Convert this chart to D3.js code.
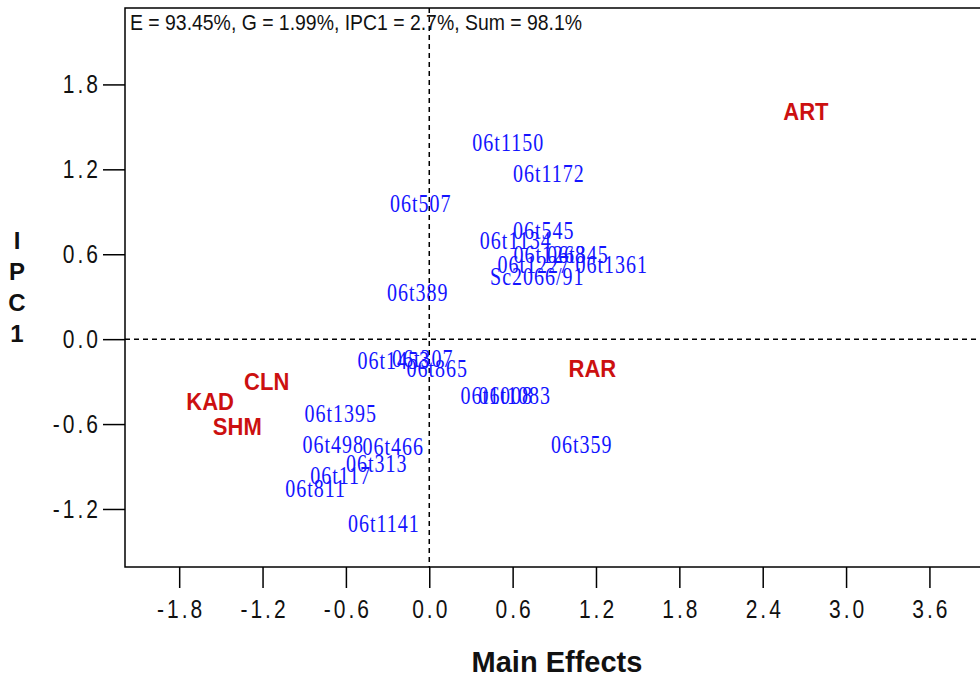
<!DOCTYPE html>
<html>
<head>
<meta charset="utf-8">
<script src="https://cdn.jsdelivr.net/npm/d3@7"></script>
<style>
  body { margin: 0; background: #fff; }
  svg { display: block; }
</style>
</head>
<body>
<div id="biplot"></div>
<script>
// GGE biplot: environments (rood) en genotypes (blauw)

const envNames = ["ART", "RAR", "CLN", "KAD", "SHM"];
const envX = [2.711, 1.174, -1.170, -1.577, -1.382];
const envY = [1.613, -0.205, -0.300, -0.441, -0.614];

const genoNames = ["06t1150", "06t1172", "06t507", "06t545", "06t1134", "06t1268", "06t345",
  "06t1227", "06t1361", "Sc2066/91", "06t389", "06t1453", "06t307", "06t865", "06t1008",
  "06t1083", "06t1395", "06t498", "06t466", "06t313", "06t117", "06t811", "06t1141", "06t359"];
const genoX = [0.565, 0.857, -0.065, 0.821, 0.619, 0.864, 1.066,
  0.749, 1.310, 0.774, -0.086, -0.259, -0.050, 0.054, 0.482,
  0.612, -0.641, -0.695, -0.263, -0.382, -0.641, -0.821, -0.331, 1.094];
const genoY = [1.390, 1.168, 0.956, 0.769, 0.699, 0.600, 0.600,
  0.529, 0.529, 0.445, 0.332, -0.148, -0.134, -0.205, -0.395,
  -0.395, -0.522, -0.745, -0.755, -0.875, -0.960, -1.052, -1.302, -0.741];

const xTickValues = [-1.8, -1.2, -0.6, 0.0, 0.6, 1.2, 1.8, 2.4, 3.0, 3.6];
const xTickLabels = ["-1.8", "-1.2", "-0.6", "0.0", "0.6", "1.2", "1.8", "2.4", "3.0", "3.6"];
const yTickValues = [1.8, 1.2, 0.6, 0.0, -0.6, -1.2];
const yTickLabels = ["1.8", "1.2", "0.6", "0.0", "-0.6", "-1.2"];

const summaryText = "E = 93.45%, G = 1.99%, IPC1 = 2.7%, Sum = 98.1%";
const xTitle = "Main Effects";
const yTitle = ["I", "P", "C", "1"];

const margin = {top: 8, right: -5, bottom: 110, left: 125},
      width = 980 - margin.left - margin.right,
      height = 677 - margin.top - margin.bottom;

const svg = d3.select("#biplot")
  .append("svg")
  .attr("width", 980)
  .attr("height", 677)
  .append("g")
  .attr("transform", `translate(${margin.left}, ${margin.top})`);

const x = d3.scaleLinear()
  .domain([-2.19, 4.0])
  .range([0, width]);

const y = d3.scaleLinear()
  .domain([-1.61, 2.34])
  .range([height, 0]);

// assen
const xAxis = svg.append("g")
  .attr("transform", `translate(0, ${height})`)
  .call(d3.axisBottom(x)
    .tickValues(xTickValues)
    .tickSize(21)
    .tickFormat(function(d, i) { return xTickLabels[i]; }));

const yAxis = svg.append("g")
  .call(d3.axisLeft(y)
    .tickValues(yTickValues)
    .tickSize(22)
    .tickPadding(2)
    .tickFormat(function(d, i) { return yTickLabels[i]; }));

[xAxis, yAxis].forEach(function(ax) {
  ax.select(".domain").remove();
  ax.selectAll("line").attr("stroke", "#000").attr("stroke-width", 1.5);
  ax.selectAll("text")
    .attr("fill", "#111")
    .style("font-family", "'Liberation Sans', Arial, sans-serif")
    .style("font-size", "21px")
    .style("letter-spacing", "3px");
});

// labels iets uitrekken in de hoogte, zoals in het origineel
xAxis.selectAll("text")
  .attr("y", null)
  .attr("dy", null)
  .attr("transform", "translate(1.5, 51) scale(1, 1.22)");

yAxis.selectAll("text")
  .attr("transform", "scale(1, 1.22)");

// kader
svg.append("rect")
  .attr("x", 0)
  .attr("y", 0)
  .attr("width", width)
  .attr("height", height)
  .attr("fill", "none")
  .attr("stroke", "#000")
  .attr("stroke-width", 1.5);

// stippellijnen door de oorsprong
svg.append("line")
  .attr("x1", x(0)).attr("x2", x(0))
  .attr("y1", 0).attr("y2", height)
  .attr("stroke", "#000")
  .attr("stroke-width", 1.5)
  .attr("stroke-dasharray", "5,4");

svg.append("line")
  .attr("x1", 0).attr("x2", width)
  .attr("y1", y(0)).attr("y2", y(0))
  .attr("stroke", "#000")
  .attr("stroke-width", 1.5)
  .attr("stroke-dasharray", "5,4");

// samenvatting linksboven
svg.append("text")
  .attr("transform", "translate(5, 22) scale(1, 1.25)")
  .attr("textLength", 452)
  .attr("lengthAdjust", "spacingAndGlyphs")
  .style("font-family", "'Liberation Sans', Arial, sans-serif")
  .style("font-size", "17px")
  .attr("fill", "#111")
  .text(summaryText);

// genotypes
const genoData = genoNames.map(function(name, i) {
  return {name: name, x: genoX[i], y: genoY[i]};
});

svg.selectAll(".geno")
  .data(genoData)
  .enter()
  .append("text")
  .attr("class", "geno")
  .attr("transform", function(d) { return `translate(${x(d.x) + 0.5}, ${y(d.y)}) scale(1, 1.3)`; })
  .attr("text-anchor", "middle")
  .attr("dy", "0.33em")
  .style("font-family", "'Liberation Serif', 'Times New Roman', serif")
  .style("font-size", "20px")
  .style("letter-spacing", "1px")
  .attr("fill", "#1414ff")
  .text(function(d) { return d.name; });

// omgevingen
const envData = envNames.map(function(name, i) {
  return {name: name, x: envX[i], y: envY[i]};
});

svg.selectAll(".env")
  .data(envData)
  .enter()
  .append("text")
  .attr("class", "env")
  .attr("transform", function(d) { return `translate(${x(d.x)}, ${y(d.y)}) scale(1, 1.1)`; })
  .attr("text-anchor", "middle")
  .attr("dy", "0.36em")
  .style("font-family", "'Liberation Sans', Arial, sans-serif")
  .style("font-size", "22px")
  .style("font-weight", "bold")
  .attr("fill", "#cc1010")
  .text(function(d) { return d.name; });

// astitels
svg.append("text")
  .attr("x", 557 - margin.left)
  .attr("y", 672 - margin.top)
  .attr("text-anchor", "middle")
  .style("font-family", "'Liberation Sans', Arial, sans-serif")
  .style("font-size", "29px")
  .style("font-weight", "bold")
  .attr("fill", "#111")
  .text(xTitle);

svg.selectAll(".ytitle")
  .data(yTitle)
  .enter()
  .append("text")
  .attr("class", "ytitle")
  .attr("x", 17 - margin.left)
  .attr("y", function(d, i) { return 240 + i * 31 - margin.top; })
  .attr("text-anchor", "middle")
  .attr("dy", "0.36em")
  .style("font-family", "'Liberation Sans', Arial, sans-serif")
  .style("font-size", "24px")
  .style("font-weight", "bold")
  .attr("fill", "#111")
  .text(function(d) { return d; });
</script>
</body>
</html>
